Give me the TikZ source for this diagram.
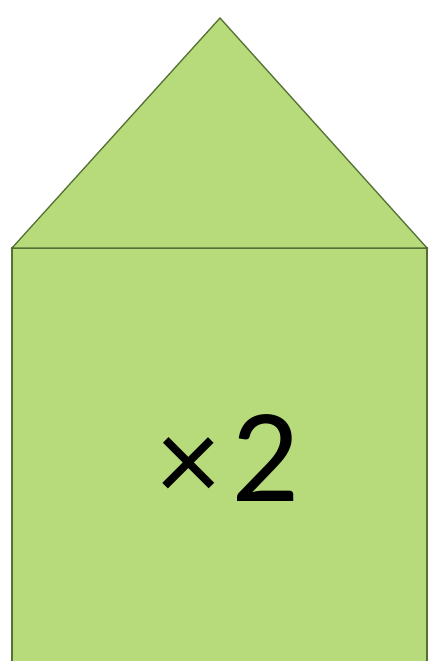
\documentclass[tikz,border=0pt]{standalone}
\usepackage{fontspec}
\setmainfont{Carlito}
\definecolor{fillg}{RGB}{183,219,122}
\definecolor{edgeg}{RGB}{84,112,52}
\begin{document}
\begin{tikzpicture}[x=1pt,y=1pt,
  shapestyle/.style={fill=fillg,draw=edgeg,line width=1.3pt,line join=miter}]
\useasboundingbox (0,0) rectangle (429,661);
\fill[white] (0,0) rectangle (429,661);
\begin{scope}
\clip (0,0) rectangle (429,661);
\draw[shapestyle] (12,-6) rectangle (427,413);
\draw[shapestyle] (12,413) -- (220,643) -- (427,413) -- cycle;
\end{scope}
\node[inner sep=0pt] (t) at (229,203) {\fontsize{134}{134}\selectfont{\fontsize{122}{122}\selectfont ×}\kern12pt 2};
\end{tikzpicture}
\end{document}
